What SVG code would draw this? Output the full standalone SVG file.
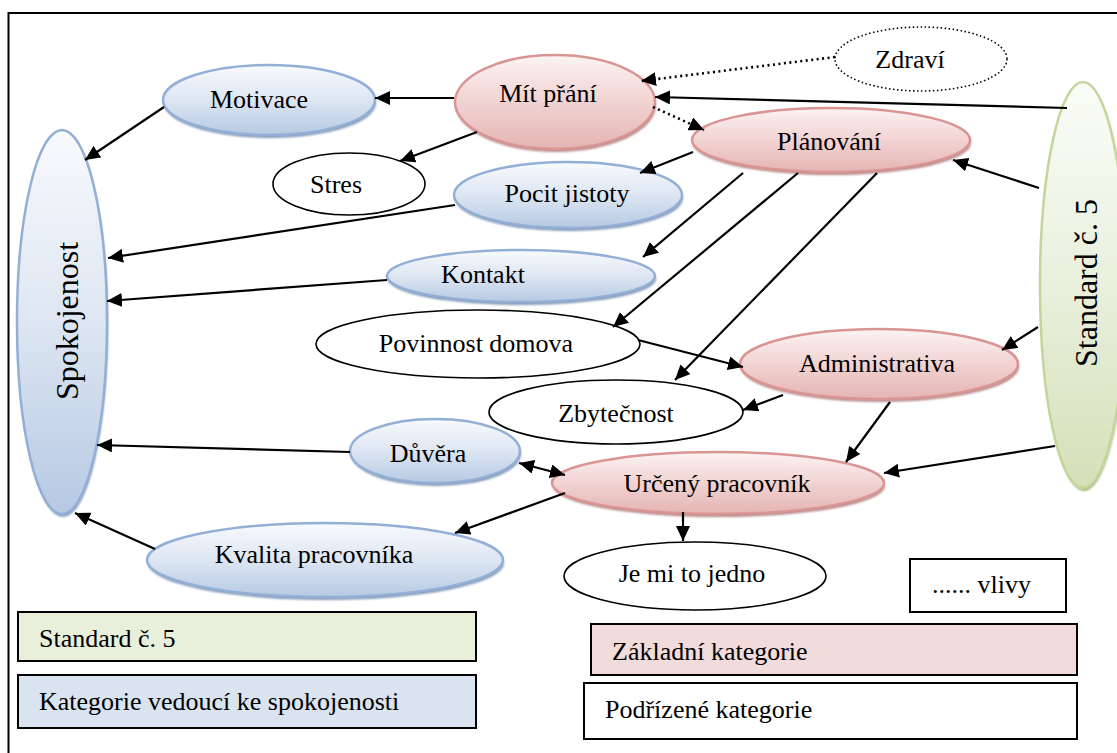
<svg xmlns="http://www.w3.org/2000/svg" width="1117" height="753" viewBox="0 0 1117 753" font-family="'Liberation Serif', 'DejaVu Serif', serif">
  <defs>
    <linearGradient id="gBlue" x1="0" y1="0" x2="0" y2="1">
      <stop offset="0" stop-color="#f8fafd"/>
      <stop offset="0.5" stop-color="#dde6f2"/>
      <stop offset="1" stop-color="#b6c9e3"/>
    </linearGradient>
    <linearGradient id="gPink" x1="0" y1="0" x2="0" y2="1">
      <stop offset="0" stop-color="#fcf3f3"/>
      <stop offset="0.5" stop-color="#f1d3d2"/>
      <stop offset="1" stop-color="#e4b4b3"/>
    </linearGradient>
    <linearGradient id="gGreen" x1="0" y1="0" x2="0" y2="1">
      <stop offset="0" stop-color="#fafcf7"/>
      <stop offset="0.5" stop-color="#e9f0dd"/>
      <stop offset="1" stop-color="#d3e1b8"/>
    </linearGradient>
    <filter id="soft" x="-10%" y="-10%" width="120%" height="130%">
      <feGaussianBlur stdDeviation="1.2"/>
    </filter>
    <marker id="arrow" markerUnits="userSpaceOnUse" markerWidth="16" markerHeight="14" refX="15" refY="7" orient="auto-start-reverse">
      <path d="M0,0 L15,7 L0,14 Z" fill="#000"/>
    </marker>
  </defs>
  <style>
    text { font-family: 'Liberation Serif', 'DejaVu Serif', serif; font-size: 26px; fill: #000; }
    .lbl { text-anchor: middle; }
    .big { font-size: 32px; text-anchor: middle; }
    .blue { fill: url(#gBlue); stroke: #93afd6; stroke-width: 2.5; }
    .pink { fill: url(#gPink); stroke: #d99594; stroke-width: 2.5; }
    .green { fill: url(#gGreen); stroke: #c2d69b; stroke-width: 2.5; }
    .plain { fill: #fff; stroke: #000; stroke-width: 1.6; }
    .dotnode { fill: #fff; stroke: #000; stroke-width: 1.6; stroke-dasharray: 1.5 2.5; }
    .shB { fill: #8399b8; filter: url(#soft); }
    .shP { fill: #b98a8a; filter: url(#soft); }
    .shG { fill: #a7b987; filter: url(#soft); }
    .conn line { stroke: #000; stroke-width: 2.2; marker-end: url(#arrow); }
    .conn line.dot { stroke-width: 2.6; stroke-dasharray: 2 3.5; }
    .conn line.both { marker-start: url(#arrow); }
    .key { stroke: #000; stroke-width: 2; }
  </style>

  <rect width="1117" height="753" fill="#fff"/>
  <!-- outer frame -->
  <path d="M8.5,753 V13 H1117" fill="none" stroke="#000" stroke-width="2"/>

  <!-- legend -->
  <g id="legend-standard">
    <rect class="key" x="18" y="612" width="458" height="49" fill="#e8f0dc"/>
    <text x="39" y="647">Standard č. 5</text>
  </g>
  <g id="legend-vedouci">
    <rect class="key" x="18" y="675" width="458" height="53" fill="#dae4f0"/>
    <text x="39" y="710">Kategorie vedoucí ke spokojenosti</text>
  </g>
  <g id="legend-zakladni">
    <rect class="key" x="591" y="624" width="486" height="51" fill="#f1dbdb"/>
    <text x="612" y="660">Základní kategorie</text>
  </g>
  <g id="legend-podrizene">
    <rect class="key" x="584" y="683" width="493" height="56" fill="#fff"/>
    <text x="605" y="718">Podřízené kategorie</text>
  </g>
  <g id="legend-vlivy">
    <rect class="key" x="910" y="559" width="156" height="53" fill="#fff"/>
    <text x="932" y="593">...... vlivy</text>
  </g>

  <!-- nodes -->
  <g id="spokojenost">
    <ellipse class="shB" cx="63" cy="325" rx="45" ry="192"/>
    <ellipse class="blue" cx="62" cy="322" rx="45" ry="192"/>
    <text class="big" transform="translate(78,321) rotate(-90)">Spokojenost</text>
  </g>
  <g id="standard">
    <ellipse class="shG" cx="1084" cy="288" rx="43" ry="203"/>
    <ellipse class="green" cx="1083" cy="285" rx="43" ry="203"/>
    <text class="big" transform="translate(1097,283) rotate(-90)">Standard č. 5</text>
  </g>
  <g id="motivace">
    <ellipse class="shB" cx="270" cy="103" rx="106" ry="35"/>
    <ellipse class="blue" cx="269" cy="100" rx="106" ry="35"/>
    <text class="lbl" x="259" y="108">Motivace</text>
  </g>
  <g id="stres">
    <ellipse class="plain" cx="349" cy="184" rx="76" ry="31"/>
    <text class="lbl" x="336" y="193">Stres</text>
  </g>
  <g id="mit-prani">
    <ellipse class="shP" cx="556" cy="105" rx="100" ry="47"/>
    <ellipse class="pink" cx="555" cy="102" rx="100" ry="47"/>
    <text class="lbl" x="548" y="102">Mít přání</text>
  </g>
  <g id="zdravi">
    <ellipse class="dotnode" cx="921" cy="59" rx="86" ry="32"/>
    <text class="lbl" x="910" y="68">Zdraví</text>
  </g>
  <g id="planovani">
    <ellipse class="shP" cx="832" cy="143" rx="139" ry="32"/>
    <ellipse class="pink" cx="831" cy="140" rx="139" ry="32"/>
    <text class="lbl" x="829" y="150">Plánování</text>
  </g>
  <g id="pocit-jistoty">
    <ellipse class="shB" cx="569" cy="198" rx="114" ry="33"/>
    <ellipse class="blue" cx="568" cy="195" rx="114" ry="33"/>
    <text class="lbl" x="567" y="202">Pocit jistoty</text>
  </g>
  <g id="kontakt">
    <ellipse class="shB" cx="522" cy="279" rx="134" ry="26"/>
    <ellipse class="blue" cx="521" cy="276" rx="134" ry="26"/>
    <text class="lbl" x="483" y="283">Kontakt</text>
  </g>
  <g id="povinnost-domova">
    <ellipse class="plain" cx="478" cy="344" rx="162" ry="34"/>
    <text class="lbl" x="476" y="352">Povinnost domova</text>
  </g>
  <g id="administrativa">
    <ellipse class="shP" cx="880" cy="367" rx="139" ry="35"/>
    <ellipse class="pink" cx="879" cy="364" rx="139" ry="35"/>
    <text class="lbl" x="877" y="372">Administrativa</text>
  </g>
  <g id="zbytecnost">
    <ellipse class="plain" cx="616" cy="412" rx="127" ry="32"/>
    <text class="lbl" x="616" y="422">Zbytečnost</text>
  </g>
  <g id="duvera">
    <ellipse class="shB" cx="436" cy="454" rx="85" ry="32"/>
    <ellipse class="blue" cx="435" cy="451" rx="85" ry="32"/>
    <text class="lbl" x="428" y="462">Důvěra</text>
  </g>
  <g id="urceny-pracovnik">
    <ellipse class="shP" cx="719" cy="486" rx="166" ry="31"/>
    <ellipse class="pink" cx="718" cy="483" rx="166" ry="31"/>
    <text class="lbl" x="717" y="492">Určený pracovník</text>
  </g>
  <g id="kvalita-pracovnika">
    <ellipse class="shB" cx="326" cy="563" rx="178" ry="37"/>
    <ellipse class="blue" cx="325" cy="560" rx="178" ry="37"/>
    <text class="lbl" x="314" y="563">Kvalita pracovníka</text>
  </g>
  <g id="je-mi-to-jedno">
    <ellipse class="plain" cx="695" cy="576" rx="131" ry="34"/>
    <text class="lbl" x="692" y="582">Je mi to jedno</text>
  </g>

  <!-- connectors -->
  <g id="connectors" class="conn">
    <line x1="454" y1="98" x2="375" y2="98"/>
    <line x1="164" y1="107" x2="85" y2="160"/>
    <line x1="477" y1="132" x2="400" y2="161"/>
    <line class="dot" x1="835" y1="57" x2="641" y2="81"/>
    <line class="dot" x1="653" y1="107" x2="704" y2="130"/>
    <line x1="1067" y1="108" x2="655" y2="97"/>
    <line x1="1039" y1="188" x2="953" y2="160"/>
    <line x1="693" y1="152" x2="640" y2="173"/>
    <line x1="743" y1="173" x2="643" y2="257"/>
    <line x1="798" y1="173" x2="613" y2="327"/>
    <line x1="877" y1="173" x2="675" y2="380"/>
    <line x1="638" y1="340" x2="743" y2="367"/>
    <line x1="1038" y1="327" x2="1002" y2="350"/>
    <line x1="783" y1="395" x2="743" y2="410"/>
    <line x1="890" y1="402" x2="846" y2="462"/>
    <line x1="1055" y1="446" x2="884" y2="473"/>
    <line class="both" x1="519" y1="463" x2="565" y2="475"/>
    <line x1="350" y1="452" x2="97" y2="445"/>
    <line x1="455" y1="205" x2="108" y2="258"/>
    <line x1="387" y1="280" x2="107" y2="301"/>
    <line x1="155" y1="549" x2="75" y2="513"/>
    <line x1="565" y1="493" x2="455" y2="533"/>
    <line x1="683" y1="512" x2="683" y2="541"/>
  </g>
</svg>
